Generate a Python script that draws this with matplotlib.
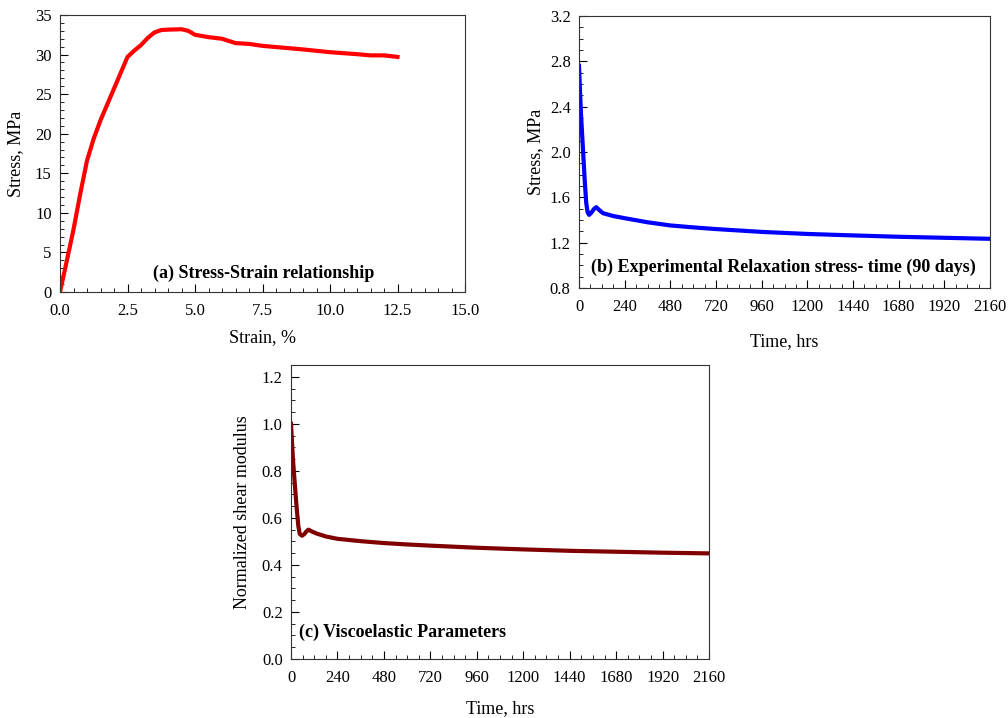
import matplotlib
matplotlib.use("Agg")
import matplotlib.pyplot as plt
from matplotlib.ticker import MultipleLocator

plt.rcParams['font.family'] = ['Liberation Serif', 'DejaVu Serif']
plt.rcParams['font.size'] = 12

# (a) stress-strain
strain = [0, 0.25, 0.5, 0.75, 1.0, 1.25, 1.5, 2.0, 2.5, 2.75, 3.0, 3.25, 3.5, 3.75,
          4.0, 4.5, 4.75, 5.0, 5.5, 6.0, 6.5, 7.0, 7.5, 8.0, 9.0, 10.0, 11.0,
          11.5, 12.0, 12.5]
stress = [0, 3.9, 7.9, 12.4, 16.6, 19.4, 21.7, 25.7, 29.7, 30.5, 31.2, 32.1, 32.8, 33.1,
          33.15, 33.2, 33.0, 32.5, 32.2, 32.0, 31.45, 31.35, 31.1, 30.95, 30.65, 30.3, 30.05,
          29.9, 29.9, 29.7]

# (b) relaxation stress vs time
t_b = [0, 5, 10, 20, 30, 38, 45, 53, 65, 80, 91, 105, 126, 180, 240, 360, 480, 600,
       720, 960, 1200, 1440, 1680, 1920, 2160]
s_b = [2.76, 2.55, 2.35, 2.05, 1.75, 1.55, 1.47, 1.445, 1.465, 1.50, 1.513, 1.49, 1.46,
       1.435, 1.416, 1.38, 1.352, 1.335, 1.32, 1.295, 1.277, 1.264, 1.252, 1.243, 1.234]

# (c) normalized shear modulus
t_c = [0, 5, 10, 20, 30, 38, 45, 57, 70, 80, 91, 105, 134, 180, 240, 360, 480, 600,
       720, 960, 1200, 1440, 1680, 1920, 2160]
g_c = [1.0, 0.925, 0.85, 0.74, 0.635, 0.565, 0.532, 0.524, 0.532, 0.543, 0.55, 0.543,
       0.533, 0.521, 0.511, 0.501, 0.493, 0.487, 0.482, 0.473, 0.466, 0.460, 0.456,
       0.452, 0.449]

fig = plt.figure(figsize=(10.08, 7.18), dpi=100)
W, H = 1008, 718


def add_ax(l, t, r, b):
    return fig.add_axes([l / W, 1 - b / H, (r - l) / W, (b - t) / H])


def style(ax):
    ax.tick_params(which='both', direction='in', top=False, right=False,
                   labelsize=12)
    ax.tick_params(axis='x', pad=8)
    ax.tick_params(axis='y', pad=6)
    ax.tick_params(which='major', length=6)
    ax.tick_params(which='minor', length=3)
    for sp in ax.spines.values():
        sp.set_color('#333333')


ax1 = add_ax(60, 15, 465, 292)
ax1.plot(strain, stress, color='#ff0000', lw=3)
ax1.set_xlim(0, 15)
ax1.set_ylim(0, 35)
ax1.xaxis.set_major_locator(MultipleLocator(2.5))
ax1.xaxis.set_minor_locator(MultipleLocator(0.5))
ax1.yaxis.set_major_locator(MultipleLocator(5))
ax1.yaxis.set_minor_locator(MultipleLocator(1))
ax1.xaxis.set_major_formatter(plt.FormatStrFormatter('%.1f'))
style(ax1)
ax1.set_xlabel('Strain, %', fontsize=13, labelpad=7)
ax1.set_ylabel('Stress, MPa', fontsize=13, labelpad=8)
ax1.text(0.23, 0.068, '(a) Stress-Strain relationship', transform=ax1.transAxes,
         fontsize=13, fontweight='bold', va='center')

ax2 = add_ax(579, 16, 990, 288)
ax2.plot(t_b, s_b, color='#0000ff', lw=3)
ax2.set_xlim(0, 2160)
ax2.set_ylim(0.8, 3.2)
ax2.xaxis.set_major_locator(MultipleLocator(240))
ax2.xaxis.set_minor_locator(MultipleLocator(60))
ax2.yaxis.set_major_locator(MultipleLocator(0.4))
ax2.yaxis.set_minor_locator(MultipleLocator(0.1))
ax2.yaxis.set_major_formatter(plt.FormatStrFormatter('%.1f'))
style(ax2)
ax2.set_xlabel('Time, hrs', fontsize=13, labelpad=13)
ax2.set_ylabel('Stress, MPa', fontsize=13, labelpad=4)
ax2.text(0.03, 0.077, '(b) Experimental Relaxation stress- time (90 days)',
         transform=ax2.transAxes, fontsize=13, fontweight='bold', va='center')

ax3 = add_ax(291, 365, 709, 659)
ax3.plot(t_c, g_c, color='#800000', lw=3)
ax3.set_xlim(0, 2160)
ax3.set_ylim(0, 1.25)
ax3.xaxis.set_major_locator(MultipleLocator(240))
ax3.xaxis.set_minor_locator(MultipleLocator(60))
ax3.yaxis.set_major_locator(MultipleLocator(0.2))
ax3.yaxis.set_minor_locator(MultipleLocator(0.05))
ax3.yaxis.set_major_formatter(plt.FormatStrFormatter('%.1f'))
style(ax3)
ax3.set_xlabel('Time, hrs', fontsize=13, labelpad=10)
ax3.set_ylabel('Normalized shear modulus', fontsize=13, labelpad=8)
ax3.text(0.02, 0.092, '(c) Viscoelastic Parameters', transform=ax3.transAxes,
         fontsize=13, fontweight='bold', va='center')

fig.savefig('out.png', dpi=100)
